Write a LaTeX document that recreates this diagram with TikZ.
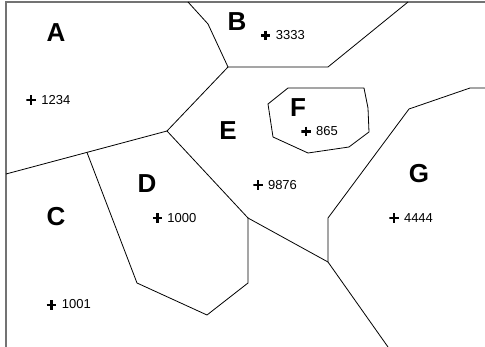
\documentclass[tikz,border=0pt]{standalone}
\usepackage{fontspec}
\setmainfont{Liberation Sans}
\begin{document}
\begin{tikzpicture}[x=1pt,y=-1pt,
  edge/.style={black, line width=0.8pt, line join=round},
  frame/.style={black!55, line width=1.3pt},
  region/.style={font=\fontsize{26}{26}\selectfont\bfseries, inner sep=0pt},
  val/.style={font=\fontsize{13}{13}\selectfont, inner sep=0pt},
  marker/.style={minimum size=9.5pt, inner sep=0pt, path picture={\draw[line width=2.6pt]
     (path picture bounding box.west) -- (path picture bounding box.east)
     (path picture bounding box.north) -- (path picture bounding box.south);}}
]
\useasboundingbox (0,0) rectangle (485,347);
\fill[white] (0,0) rectangle (485,347);

% frame
\coordinate (fb) at (6,347);
\coordinate (fc) at (6,2);
\coordinate (fr) at (485,2);
\draw[frame] (fb) -- (fc) -- (fr);

% vertices
\coordinate (t1) at (188,2);
\coordinate (t2) at (208,24);
\coordinate (v1) at (228,67);
\coordinate (b1) at (328,67);
\coordinate (t3) at (408,2);
\coordinate (v2) at (167,131);
\coordinate (l1) at (6,174);
\coordinate (v3) at (87,152.5);
\coordinate (d1) at (137,283);
\coordinate (d2) at (207,315);
\coordinate (d3) at (248,283);
\coordinate (v4) at (248,218);
\coordinate (v5) at (328,262);
\coordinate (g1) at (328,218);
\coordinate (g2) at (409,109);
\coordinate (g3) at (470,88);
\coordinate (r1) at (485,88);
\coordinate (bt) at (388,347);

\draw[edge] (t1) -- (t2) -- (v1);
\draw[edge] (v1) -- (b1) -- (t3);
\draw[edge] (v1) -- (v2);
\draw[edge] (v2) -- (l1);
\draw[edge] (v3) -- (d1) -- (d2) -- (d3) -- (v4);
\draw[edge] (v2) -- (v4);
\draw[edge] (v4) -- (v5);
\draw[edge] (v5) -- (g1) -- (g2) -- (g3) -- (r1);
\draw[edge] (v5) -- (bt);

% F polygon
\coordinate (f1) at (288,88);
\coordinate (f2) at (364,88);
\coordinate (f3) at (368,108);
\coordinate (f4) at (369,132);
\coordinate (f5) at (349,147);
\coordinate (f6) at (308,153);
\coordinate (f7) at (273,137);
\coordinate (f8) at (268,104);
\draw[edge] (f1) -- (f2) -- (f3) -- (f4) -- (f5) -- (f6) -- (f7) -- (f8) -- cycle;

% region letters
\node[region] (A) at (56,33) {A};
\node[region] (B) at (237,22) {B};
\node[region] (C) at (56,216.5) {C};
\node[region] (D) at (147,184) {D};
\node[region] (E) at (228,131) {E};
\node[region] (F) at (298,108) {F};
\node[region] (G) at (419,174) {G};

% points
\node[marker] (pA) at (31,100) {};
\node[val] (nA) at (55.8,100) {1234};
\node[marker] (pB) at (265.5,35.5) {};
\node[val] (nB) at (290.3,35.5) {3333};
\node[marker] (pF) at (306,131.5) {};
\node[val] (nF) at (327,131.5) {865};
\node[marker] (pE) at (258,185) {};
\node[val] (nE) at (282.5,185) {9876};
\node[marker] (pD) at (157.7,218) {};
\node[val] (nD) at (181.8,218) {1000};
\node[marker] (pG) at (394,218) {};
\node[val] (nG) at (418.5,218) {4444};
\node[marker] (pC) at (51.3,305) {};
\node[val] (nC) at (76.3,304.5) {1001};
\end{tikzpicture}
\end{document}
